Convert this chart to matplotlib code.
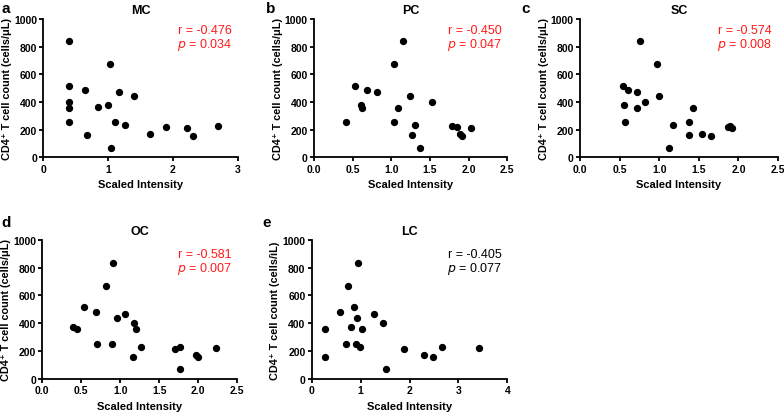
import matplotlib
matplotlib.use('Agg')
import matplotlib.pyplot as plt

plt.rcParams['font.family'] = ['Liberation Sans', 'DejaVu Sans']

# CD4+ T cell counts (same patients in each panel)
mc_x = [0.39, 1.03, 0.40, 0.64, 1.17, 1.40, 0.39, 0.39, 0.85, 1.00,
        0.39, 1.11, 1.26, 0.68, 1.64, 1.90, 2.21, 2.31, 2.70, 1.04]
mc_y = [838, 672, 518, 484, 470, 441, 402, 357, 361, 376,
        253, 253, 234, 159, 171, 222, 214, 157, 229, 70]

pc_x = [0.42, 0.53, 0.68, 0.82, 0.61, 0.62, 1.03, 1.15, 1.09, 1.24,
        1.03, 1.31, 1.27, 1.37, 1.53, 1.78, 1.85, 1.89, 1.91, 2.03]
pc_y = [253, 518, 484, 470, 376, 357, 672, 838, 359, 441,
        253, 234, 159, 70, 402, 229, 222, 171, 157, 214]

sc_x = [0.76, 0.97, 0.54, 0.61, 0.72, 1.00, 0.825, 0.55, 0.72, 1.43,
        0.57, 1.37, 1.175, 1.375, 1.54, 1.66, 1.87, 1.89, 1.92, 1.12]
sc_y = [838, 672, 518, 484, 470, 441, 402, 376, 357, 359,
        253, 253, 234, 159, 171, 157, 222, 229, 214, 70]

oc_x = [0.39, 0.44, 0.53, 0.69, 0.70, 0.82, 0.91, 0.89, 0.96, 1.06,
        1.175, 1.20, 1.16, 1.26, 1.70, 1.76, 1.77, 1.97, 2.00, 2.23]
oc_y = [373, 356, 514, 483, 254, 670, 833, 254, 440, 469,
        402, 359, 156, 230, 213, 232, 72, 172, 158, 222]

lc_x = [0.28, 0.28, 0.57, 0.74, 0.95, 0.86, 0.81, 0.92, 0.70, 0.90,
        0.99, 1.02, 1.27, 1.465, 1.51, 1.89, 2.30, 2.48, 2.67, 3.42]
lc_y = [356, 158, 483, 670, 833, 514, 373, 438, 254, 254,
        232, 359, 469, 402, 72, 213, 172, 158, 232, 222]

titles = ['MC', 'PC', 'SC', 'OC', 'LC']
letters = ['a', 'b', 'c', 'd', 'e']
r_vals = ['-0.476', '-0.450', '-0.574', '-0.581', '-0.405']
p_vals = ['0.034', '0.047', '0.008', '0.007', '0.077']
txt_colors = ['#ff1a1a', '#ff1a1a', '#ff1a1a', '#ff1a1a', 'black']
xmax = [3, 2.5, 2.5, 2.5, 4]
xticks = [[0, 1, 2, 3], [0, 0.5, 1, 1.5, 2, 2.5], [0, 0.5, 1, 1.5, 2, 2.5],
          [0, 0.5, 1, 1.5, 2, 2.5], [0, 1, 2, 3, 4]]
xfmt = ['%d', '%.1f', '%.1f', '%.1f', '%d']
ylabels = ['CD4⁺ T cell count (cells/μL)'] * 4 + ['CD4⁺ T cell count (cells/ìL)']
xs = [mc_x, pc_x, sc_x, oc_x, lc_x]
ys = [mc_y, pc_y, sc_y, oc_y, lc_y]

W, H = 784, 414
# axes boxes in pixels: left, right, top, bottom
boxes = [(43.3, 237.7, 20, 158.3), (314, 507.3, 20, 158.3), (580, 778, 20, 158.3),
         (42.3, 237.3, 240.7, 380), (311.7, 507.3, 240.7, 380)]
r_y = [0.92, 0.92, 0.92, 0.90, 0.90]
p_y = [0.82, 0.82, 0.82, 0.80, 0.80]

fig = plt.figure(figsize=(W / 100, H / 100), dpi=100)

for i in range(5):
    l, r, t, b = boxes[i]
    ax = fig.add_axes([l / W, 1 - b / H, (r - l) / W, (b - t) / H])
    ax.scatter(xs[i], ys[i], s=18, color='black', zorder=3, clip_on=False)
    ax.set_xlim(0, xmax[i])
    ax.set_ylim(0, 1000)
    ax.set_xticks(xticks[i])
    ax.set_xticklabels([xfmt[i] % v for v in xticks[i]])
    ax.set_yticks([0, 200, 400, 600, 800, 1000])
    for s in ['top', 'right']:
        ax.spines[s].set_visible(False)
    for s in ['left', 'bottom']:
        ax.spines[s].set_linewidth(1.3)
    ax.tick_params(width=1.3, length=3, labelsize=7.5, pad=1.5)
    for lab in ax.get_xticklabels() + ax.get_yticklabels():
        lab.set_fontweight('bold')
    ax.set_xlabel('Scaled Intensity', fontsize=8, fontweight='bold', labelpad=4)
    ax.set_ylabel(ylabels[i], fontsize=7.8, fontweight='bold', labelpad=1.5)
    ax.set_title(titles[i], fontsize=9, fontweight='bold', pad=4)
    ax.text(0.97, r_y[i], 'r = ' + r_vals[i], transform=ax.transAxes, ha='right',
            va='center', fontsize=9, color=txt_colors[i])
    ax.text(0.97, p_y[i], '$\\it{p}$ = ' + p_vals[i], transform=ax.transAxes, ha='right',
            va='center', fontsize=9, color=txt_colors[i])
    lx = [1, 266, 521, 1, 262][i]
    ly = [9, 9, 9, 223, 223][i]
    fig.text(lx / W, 1 - ly / H, letters[i], fontsize=11, fontweight='bold',
             ha='left', va='center')

fig.savefig('out.png', dpi=100)
